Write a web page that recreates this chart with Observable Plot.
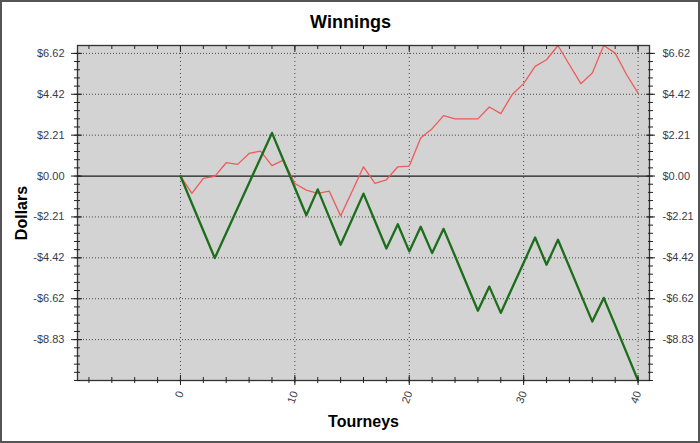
<!DOCTYPE html>
<html>
<head>
<meta charset="utf-8">
<script src="https://cdn.jsdelivr.net/npm/d3@7"></script>
<script src="https://cdn.jsdelivr.net/npm/@observablehq/plot@0.6"></script>
<style>
  html, body { margin: 0; padding: 0; background: #fff; }
  #chart svg { display: block; }
</style>
</head>
<body>
<div id="chart"></div>
<script>
// ---- data ----
const tourneys = [0,1,2,3,4,5,6,7,8,9,10,11,12,13,14,15,16,17,18,19,20,21,22,23,24,25,26,27,28,29,30,31,32,33,34,35,36,37,38,39,40];

// thin red series
const winnings = [0, -0.94, -0.12, -0.02, 0.72, 0.63, 1.22, 1.35, 0.56, 0.86,
  -0.40, -0.76, -0.94, -0.81, -2.15, -0.83, 0.50, -0.39, -0.20, 0.50,
  0.54, 2.06, 2.56, 3.26, 3.09, 3.09, 3.09, 3.73, 3.37, 4.40,
  4.99, 5.92, 6.28, 7.05, 6.01, 4.99, 5.56, 7.05, 6.64, 5.47, 4.48];

// thick green series
const trend = [0, -1.48, -2.95, -4.43, -3.08, -1.73, -0.38, 0.98, 2.33, 0.85,
  -0.63, -2.12, -0.72, -2.22, -3.71, -2.33, -0.95, -2.43, -3.91, -2.60,
  -4.07, -2.74, -4.16, -2.85, -4.32, -5.80, -7.27, -5.97, -7.39, -6.03,
  -4.68, -3.32, -4.79, -3.44, -4.91, -6.39, -7.86, -6.58, -8.06, -9.55, -11.04];

const yTickValues = [-8.832, -6.624, -4.416, -2.208, 0, 2.208, 4.416, 6.624];
const yTickLabels = ["-$8.83", "-$6.62", "-$4.42", "-$2.21", "$0.00", "$2.21", "$4.42", "$6.62"];
const yMinorStep = 0.4416;
const yMinorTicks = d3.range(-25, 16).map(k => k * yMinorStep);

const xMajorTicks = [0, 10, 20, 30, 40];
const xTickLabels = ["0", "10", "20", "30", "40"];
const xMinorTicks = [-8, -6, -4, -2, 0, 2, 4, 6, 8, 10, 12, 14, 16, 18, 20, 22, 24, 26, 28, 30, 32, 34, 36, 38, 40];

const titleText = "Winnings";
const xLabel = "Tourneys";
const yLabel = "Dollars";

// ---- build table ----
const rows = tourneys.map((t, i) => ({t, w: winnings[i], g: trend[i]}));

const fmtY = d => yTickLabels[yTickValues.findIndex(v => Math.abs(v - d) < 1e-6)] ?? "";
const fmtX = d => xTickLabels[xMajorTicks.indexOf(d)] ?? "";
const blank = () => "";
const labelColor = "#3a3a4a";

const chart = Plot.plot({
  width: 700,
  height: 443,
  marginLeft: 77,
  marginRight: 51,
  marginTop: 45,
  marginBottom: 63,
  style: {background: "white", fontFamily: "'Liberation Sans', Arial, sans-serif", fontSize: "11px", overflow: "visible"},
  x: {domain: [-9, 41]},
  y: {domain: [-11.04, 7.05]},
  marks: [
    Plot.frame({fill: "#d3d3d3"}),
    Plot.gridY(yTickValues.filter(v => v !== 0), {stroke: "#4a4a4a", strokeOpacity: 1, strokeDasharray: "1,2"}),
    Plot.gridX(xMajorTicks, {stroke: "#4a4a4a", strokeOpacity: 1, strokeDasharray: "1,3"}),
    Plot.ruleY([0], {stroke: "#1e1e1e", strokeWidth: 1.2}),
    Plot.line(rows, {x: "t", y: "w", stroke: "#f05a5a", strokeWidth: 1.3}),
    Plot.line(rows, {x: "t", y: "g", stroke: "#1c6e1c", strokeWidth: 2.3}),
    Plot.frame({stroke: "#333", strokeWidth: 1.3}),

    // left axis
    Plot.axisY({ticks: yTickValues, anchor: "left", tickSize: 11, dx: 5, tickFormat: blank, label: null, stroke: "#222"}),
    Plot.axisY({ticks: yMinorTicks, anchor: "left", tickSize: 6, dx: 3, tickFormat: blank, label: null, stroke: "#222"}),
    Plot.axisY({ticks: yTickValues, anchor: "left", tickSize: 0, tickPadding: 13, tickFormat: fmtY, label: null, fill: labelColor}),
    // right axis
    Plot.axisY({ticks: yTickValues, anchor: "right", tickSize: 9, dx: -4, tickFormat: blank, label: null, stroke: "#222"}),
    Plot.axisY({ticks: yMinorTicks, anchor: "right", tickSize: 5, dx: -2, tickFormat: blank, label: null, stroke: "#222"}),
    Plot.axisY({ticks: yTickValues, anchor: "right", tickSize: 0, tickPadding: 13, tickFormat: fmtY, label: null, fill: labelColor}),
    // bottom axis
    Plot.axisX({ticks: xMajorTicks, anchor: "bottom", tickSize: 10, dy: -5, tickFormat: blank, label: null, stroke: "#222"}),
    Plot.axisX({ticks: xMinorTicks, anchor: "bottom", tickSize: 6, dy: -3, tickFormat: blank, label: null, stroke: "#222"}),
    Plot.axisX({ticks: xMajorTicks, anchor: "bottom", tickSize: 0, tickPadding: 11, tickRotate: -70, tickFormat: fmtX, label: null, fill: labelColor}),
    // top axis (inward ticks)
    Plot.axisX({ticks: xMajorTicks, anchor: "top", tickSize: 6, dy: 6, tickFormat: blank, label: null, stroke: "#222"}),
    Plot.axisX({ticks: xMinorTicks, anchor: "top", tickSize: 3, dy: 3, tickFormat: blank, label: null, stroke: "#222"}),

    // titles
    Plot.text([titleText], {frameAnchor: "top", lineAnchor: "middle", textAnchor: "middle", dx: -13, dy: -23.5, fontSize: 18, fontWeight: "bold", fill: "#000"}),
    Plot.text([xLabel], {frameAnchor: "bottom", lineAnchor: "middle", textAnchor: "middle", dy: 41.5, fontSize: 16, fontWeight: "bold", fill: "#000"}),
    Plot.text([yLabel], {frameAnchor: "left", lineAnchor: "middle", textAnchor: "middle", dx: -56, rotate: -90, fontSize: 16, fontWeight: "bold", fill: "#000"})
  ]
});

d3.select(chart).append("rect")
  .attr("x", 1).attr("y", 1).attr("width", 698).attr("height", 441)
  .attr("fill", "none").attr("stroke", "#555").attr("stroke-width", 2);

document.getElementById("chart").appendChild(chart);
</script>
</body>
</html>
